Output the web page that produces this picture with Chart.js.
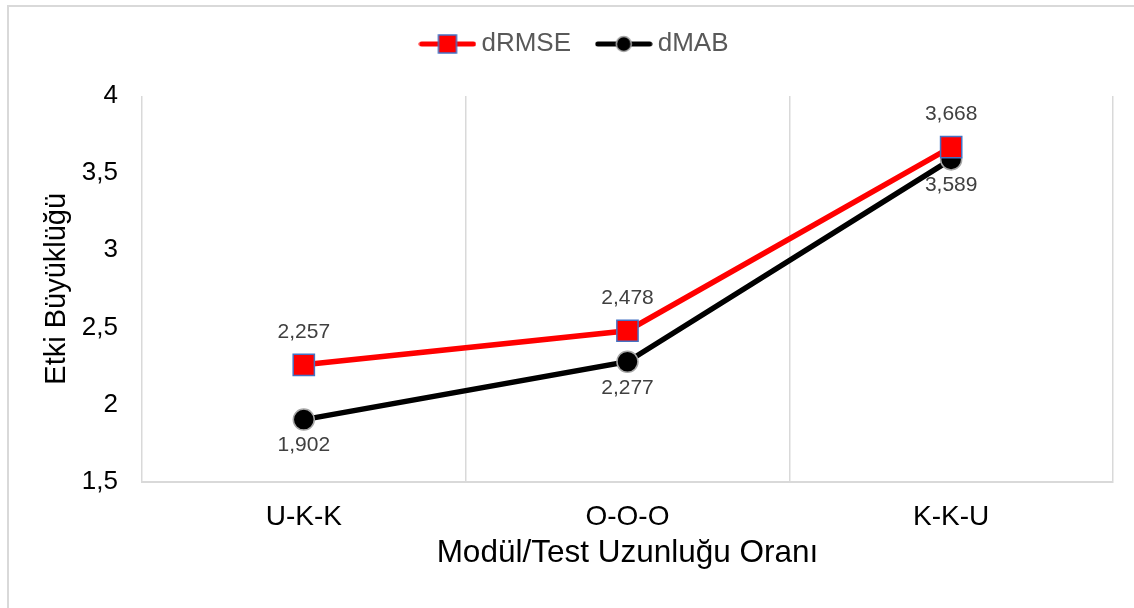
<!DOCTYPE html>
<html>
<head>
<meta charset="utf-8">
<script src="https://cdn.jsdelivr.net/npm/chart.js@4"></script>
<style>
  html, body { margin: 0; padding: 0; background: #fff; }
  #wrap { position: relative; width: 1134px; height: 608px; overflow: hidden; }
  #frame { position: absolute; left: 7px; top: 5px; width: 1140px; height: 620px; border: 2px solid #d9d9d9; box-sizing: border-box; }
  canvas { position: absolute; left: 0; top: 0; }
</style>
</head>
<body>
<div id="wrap">
  <div id="frame"></div>
  <canvas id="chart" width="1134" height="608"></canvas>
</div>
<script>
const categories = ['U-K-K', 'O-O-O', 'K-K-U'];
const drmse = [2.257, 2.478, 3.668];
const dmab = [1.902, 2.277, 3.589];
const yTicks = [1.5, 2, 2.5, 3, 3.5, 4];

const fontFamily = '"Liberation Sans", Arial, sans-serif';

function fmt(v, digits) {
    return v.toFixed(digits).replace('.', ',');
}

// legend icon: line with marker in the middle
function legendIcon(color, markerFill, markerBorder, square) {
    const c = document.createElement('canvas');
    c.width = 58;
    c.height = 24;
    const g = c.getContext('2d');
    g.strokeStyle = color;
    g.lineWidth = 5;
    g.lineCap = 'round';
    g.beginPath();
    g.moveTo(3, 12);
    g.lineTo(55, 12);
    g.stroke();
    g.fillStyle = markerFill;
    g.strokeStyle = markerBorder;
    g.lineWidth = 1.5;
    if (square) {
        g.fillRect(20, 3, 18, 18);
        g.strokeRect(20, 3, 18, 18);
    } else {
        g.beginPath();
        g.arc(29, 12, 7.5, 0, Math.PI * 2);
        g.fill();
        g.stroke();
    }
    return c;
}

const redIcon = legendIcon('#ff0000', '#ff0000', '#4472c4', true);
const blackIcon = legendIcon('#000000', '#000000', '#a6a6a6', false);

// value labels above red points, below black points
const valueLabels = {
    id: 'valueLabels',
    afterDatasetsDraw(chart) {
        const ctx = chart.ctx;
        ctx.save();
        ctx.font = '21px ' + fontFamily;
        ctx.fillStyle = '#404040';
        ctx.textAlign = 'center';
        ctx.textBaseline = 'middle';
        chart.data.datasets.forEach((ds, i) => {
            const meta = chart.getDatasetMeta(i);
            meta.data.forEach((pt, j) => {
                const dy = i === 0 ? -33 : 26;
                ctx.fillText(fmt(ds.data[j], 3), pt.x, pt.y + dy);
            });
        });
        ctx.restore();
    }
};

// extra space under the legend, and nudge it right a little
const legendMargin = {
    id: 'legendMargin',
    beforeInit(chart) {
        const fit = chart.legend.fit;
        chart.legend.fit = function () {
            fit.bind(chart.legend)();
            this.height += 29;
        };
    },
    afterLayout(chart) {
        chart.legend.left += 12;
        chart.legend.right += 12;
    }
};

new Chart(document.getElementById('chart').getContext('2d'), {
    type: 'line',
    data: {
        labels: categories,
        datasets: [
            {
                label: 'dRMSE',
                data: drmse,
                borderColor: '#ff0000',
                borderWidth: 5.5,
                pointStyle: 'rect',
                pointRadius: 15,
                pointBackgroundColor: '#ff0000',
                pointBorderColor: '#4472c4',
                pointBorderWidth: 1.5,
                tension: 0
            },
            {
                label: 'dMAB',
                data: dmab,
                borderColor: '#000000',
                borderWidth: 5.5,
                pointStyle: 'circle',
                pointRadius: 10.5,
                pointBackgroundColor: '#000000',
                pointBorderColor: '#a6a6a6',
                pointBorderWidth: 1.5,
                tension: 0
            }
        ]
    },
    options: {
        responsive: false,
        animation: false,
        layout: { padding: { top: 21, right: 21, bottom: 29, left: 18 } },
        plugins: {
            tooltip: { enabled: false },
            legend: {
                position: 'top',
                labels: {
                    usePointStyle: true,
                    pointStyleWidth: 42,
                    font: { family: fontFamily, size: 26 },
                    color: '#595959',
                    padding: 10,
                    generateLabels: () => [
                        { text: 'dRMSE   ', pointStyle: redIcon, fontColor: '#595959', lineWidth: 0, strokeStyle: 'transparent', fillStyle: 'transparent', datasetIndex: 0 },
                        { text: 'dMAB', pointStyle: blackIcon, fontColor: '#595959', lineWidth: 0, strokeStyle: 'transparent', fillStyle: 'transparent', datasetIndex: 1 }
                    ]
                }
            }
        },
        scales: {
            x: {
                offset: true,
                grid: { offset: true, color: '#d9d9d9', lineWidth: 1.5, drawTicks: false },
                border: { display: true, color: '#d9d9d9', width: 2 },
                ticks: { font: { family: fontFamily, size: 28 }, color: '#000', padding: 19 },
                title: { display: true, text: 'Modül/Test Uzunluğu Oranı', font: { family: fontFamily, size: 31.5 }, color: '#000', padding: { top: -19, bottom: 7 } }
            },
            y: {
                min: yTicks[0],
                max: yTicks[yTicks.length - 1],
                afterBuildTicks: axis => { axis.ticks = yTicks.map(v => ({ value: v })); },
                grid: { display: false },
                border: { display: false },
                ticks: {
                    font: { family: fontFamily, size: 26 },
                    color: '#000',
                    padding: 16,
                    callback: v => String(v).replace('.', ',')
                },
                title: { display: true, text: 'Etki Büyüklüğü', font: { family: fontFamily, size: 29 }, color: '#000', padding: { top: 22, bottom: -9 } }
            }
        }
    },
    plugins: [valueLabels, legendMargin]
});
</script>
</body>
</html>
